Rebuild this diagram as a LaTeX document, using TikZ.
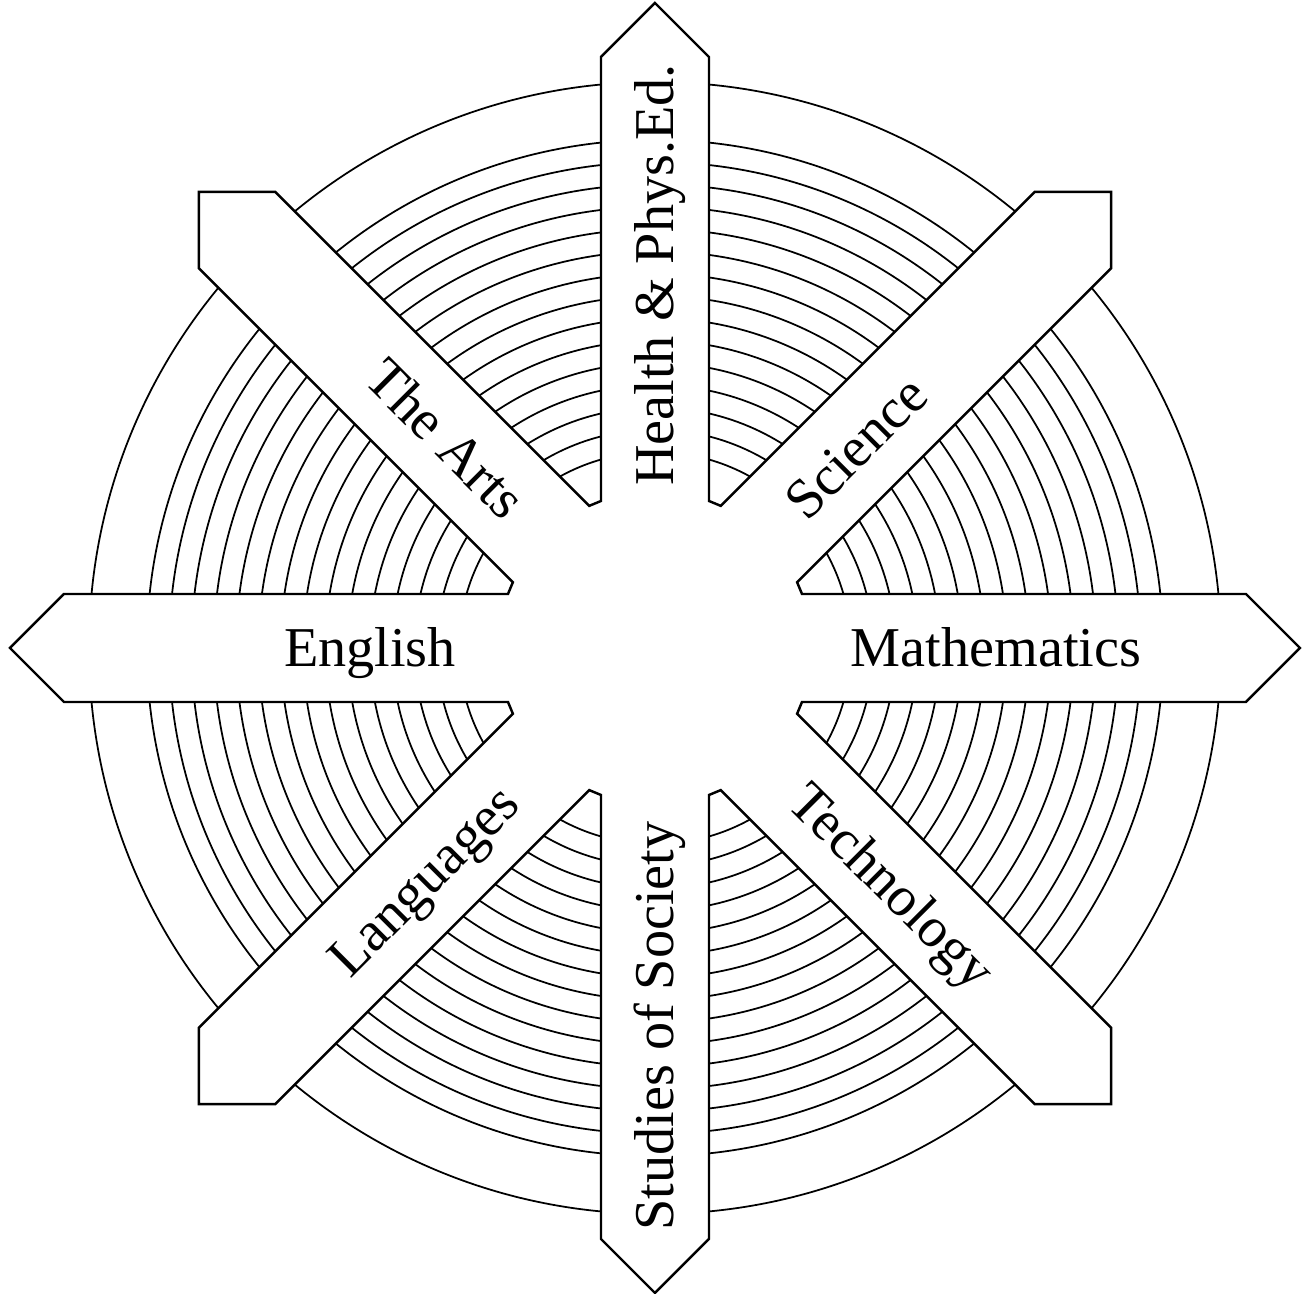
\documentclass[tikz,border=0pt]{standalone}
\usepackage{fontspec}
\setmainfont{Liberation Serif}
\usetikzlibrary{calc}

\begin{document}
\begin{tikzpicture}[
    ring/.style={line width=0.5pt},
    spoke/.style={draw, line width=0.7pt, line join=miter},
    subject/.style={font=\fontsize{16}{18}\selectfont, inner sep=0pt, text height=10.6pt, text depth=0pt}
]
\useasboundingbox (-6.55,-6.46) rectangle (6.60,6.48);

% Rings in the sectors between the arms
\foreach \a in {0,45,...,315} {
  \begin{scope}
    \clip ($(\a:1.47)+(\a+90:0.54)$) -- ($(\a:8)+(\a+90:0.54)$)
      -- ($(\a+45:8)+(\a-45:0.54)$) -- ($(\a+45:1.47)+(\a-45:0.54)$) -- cycle;
    \draw[ring] (0,0) circle (5.66);
    \foreach \k in {0,...,14}
      \draw[ring] (0,0) circle ({1.96+0.223*\k});
  \end{scope}
}

% Outline of the arms
\draw[spoke] ($(0:1.47)+(-90:0.54)$)
  \foreach \a in {0,45,...,315} {
    -- ($(\a:1.47)+(\a-90:0.54)$) -- ($(\a:5.91)+(\a-90:0.54)$) -- (\a:6.45)
    -- ($(\a:5.91)+(\a+90:0.54)$) -- ($(\a:1.47)+(\a+90:0.54)$)
  } -- cycle;

% Subjects
\node[subject] (english) at (180:2.85) {English};
\node[subject] (maths) at (0:3.41) {Mathematics};
\node[subject, rotate=90] (health) at (90:3.73) {Health \& Phys.Ed.};
\node[subject, rotate=90] (society) at (270:3.78) {Studies of Society};
\node[subject, rotate=-45] (arts) at (135:2.96) {The Arts};
\node[subject, rotate=45] (science) at (45:2.84) {Science};
\node[subject, rotate=45] (languages) at (225:3.28) {Languages};
\node[subject, rotate=-45] (tech) at (315:3.36) {Technology};

\end{tikzpicture}
\end{document}
